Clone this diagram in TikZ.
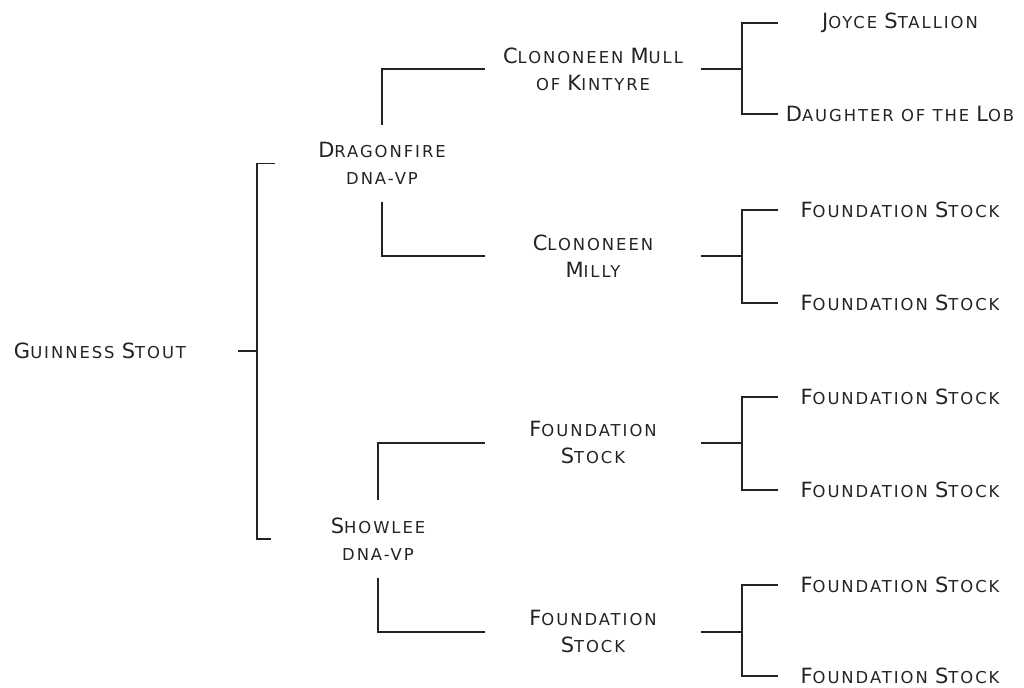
\documentclass[tikz,border=0pt]{standalone}
\usepackage{fontspec}
\newfontfamily\cpfont[LetterSpace=12]{DejaVu Sans}
\newcommand\Bg[1]{{\fontsize{10.5}{13.5}\selectfont #1}}
\definecolor{ink}{HTML}{232323}
\tikzset{
  horse/.style={font={\cpfont\fontsize{8.2}{13.5}\selectfont}, text=ink, align=center, inner sep=0pt},
  root/.style={horse, minimum width=138pt},
  sire/.style={horse, minimum width=107pt, minimum height=38.5pt},
  dam/.style={horse, minimum width=107.5pt},
  founder/.style={horse, minimum width=122pt},
  line/.style={draw=ink, line width=0.75pt}
}

\begin{document}
\begin{tikzpicture}[x=0.5pt,y=-0.5pt]
      \useasboundingbox (0,0) rectangle (1024,688);
      \draw node[root] (gs) at (100,351) {\Bg{G}UINNESS \Bg{S}TOUT};
      \draw node[sire] (df) at (382,163.5) {\Bg{D}RAGONFIRE\\DNA-VP};
      \draw node[sire] (sh) at (378,539) {\Bg{S}HOWLEE\\DNA-VP};
      \draw node[dam] (cm) at (593,69) {\Bg{C}LONONEEN \Bg{M}ULL\\OF \Bg{K}INTYRE};
      \draw node[dam] (cmi) at (593,256) {\Bg{C}LONONEEN\\\Bg{M}ILLY};
      \draw node[dam] (fsa) at (593,443) {\Bg{F}OUNDATION\\\Bg{S}TOCK};
      \draw node[dam] (fsb) at (593,632) {\Bg{F}OUNDATION\\\Bg{S}TOCK};
      \draw node[founder] (js) at (900,23) {\Bg{J}OYCE \Bg{S}TALLION};
      \draw node[founder] (dl) at (900,114) {\Bg{D}AUGHTER OF THE \Bg{L}OB};
      \draw node[founder] (fs1) at (900,210) {\Bg{F}OUNDATION \Bg{S}TOCK};
      \draw node[founder] (fs2) at (900,303) {\Bg{F}OUNDATION \Bg{S}TOCK};
      \draw node[founder] (fs3) at (900,397) {\Bg{F}OUNDATION \Bg{S}TOCK};
      \draw node[founder] (fs4) at (900,490) {\Bg{F}OUNDATION \Bg{S}TOCK};
      \draw node[founder] (fs5) at (900,585) {\Bg{F}OUNDATION \Bg{S}TOCK};
      \draw node[founder] (fs6) at (900,676) {\Bg{F}OUNDATION \Bg{S}TOCK};
      % bracket joints
      \coordinate (b0) at (257,351);
      \coordinate (b1) at (742,69);
      \coordinate (b2) at (742,256);
      \coordinate (b3) at (742,443);
      \coordinate (b4) at (742,632);
      \draw[line] (gs.east) -- (b0);
      \draw[line] (df.west) -| (b0) |- (sh.west);
      \draw[line] (df.north) |- (cm.west);
      \draw[line] (df.south) |- (cmi.west);
      \draw[line] (sh.north) |- (fsa.west);
      \draw[line] (sh.south) |- (fsb.west);
      \draw[line] (cm.east) -- (b1);
      \draw[line] (js.west) -| (b1) |- (dl.west);
      \draw[line] (cmi.east) -- (b2);
      \draw[line] (fs1.west) -| (b2) |- (fs2.west);
      \draw[line] (fsa.east) -- (b3);
      \draw[line] (fs3.west) -| (b3) |- (fs4.west);
      \draw[line] (fsb.east) -- (b4);
      \draw[line] (fs5.west) -| (b4) |- (fs6.west);
    \end{tikzpicture}
\end{document}
